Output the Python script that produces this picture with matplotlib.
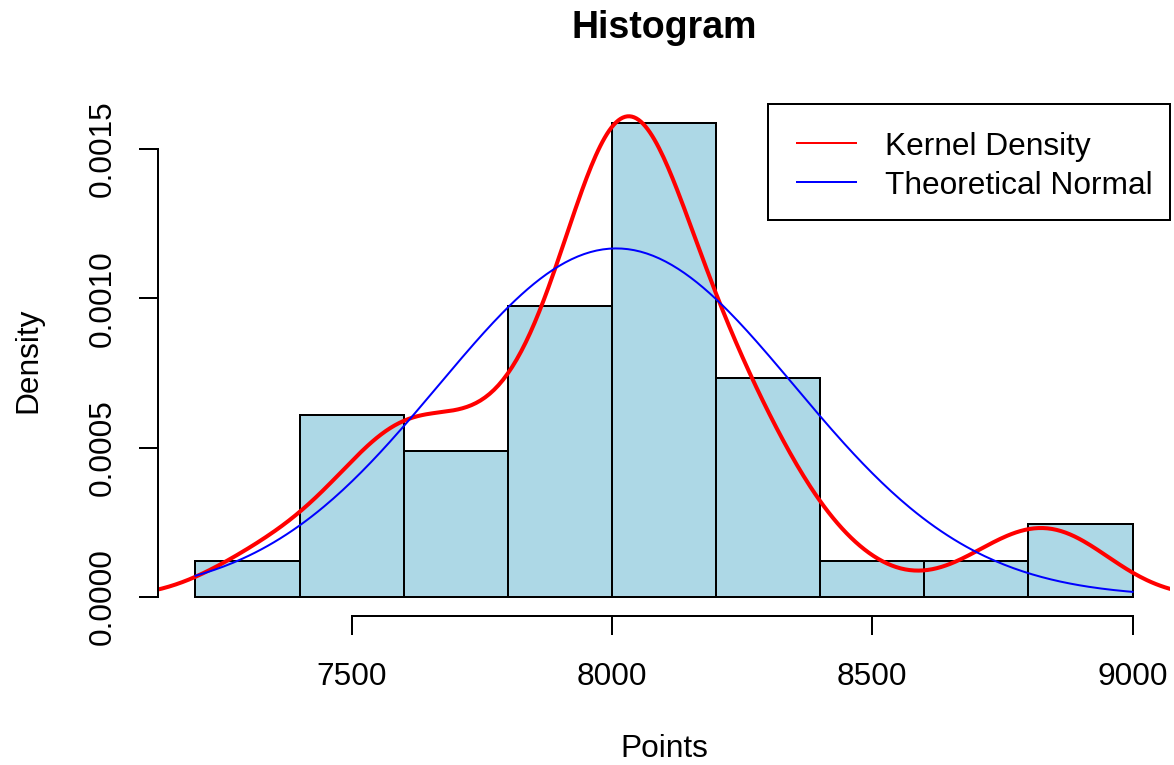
import matplotlib

matplotlib.use("Agg")
import matplotlib.pyplot as plt
from matplotlib.lines import Line2D
from matplotlib.patches import Rectangle
import numpy as np

plt.rcParams["font.family"] = ["Liberation Sans", "DejaVu Sans"]

# Points scored, one value per observation
points = [
    7305,
    7430, 7490, 7575, 7590, 7598,
    7625, 7685, 7740, 7782,
    7810, 7850, 7890, 7925, 7950, 7970, 7985, 7995,
    8005, 8012, 8018, 8025, 8032, 8040, 8048, 8057, 8068, 8080, 8095, 8115, 8145,
    8205, 8215, 8230, 8250, 8285, 8330,
    8440, 8730, 8840, 8880,
]
breaks = list(range(7200, 9001, 200))
x_ticks = [7500, 8000, 8500, 9000]
y_ticks = [0.0, 0.0005, 0.0010, 0.0015]
legend_labels = ["Kernel Density", "Theoretical Normal"]
legend_colors = ["red", "blue"]

x = np.array(points, dtype=float)
dens, edges = np.histogram(x, bins=breaks, density=True)

# gaussian kernel density, bandwidth from Silverman's rule (bw.nrd0)
q1, q3 = np.percentile(x, [25, 75])
bw = 0.9 * min(x.std(ddof=1), (q3 - q1) / 1.34) * len(x) ** -0.2
grid = np.linspace(x.min() - 3 * bw, x.max() + 3 * bw, 512)
kde = np.exp(-0.5 * ((grid[:, None] - x[None, :]) / bw) ** 2).sum(axis=1)
kde /= len(x) * bw * np.sqrt(2 * np.pi)

# normal curve with the sample mean and sd
mu, sd = x.mean(), x.std(ddof=1)
xn = np.linspace(breaks[0], breaks[-1], 300)
yn = np.exp(-0.5 * ((xn - mu) / sd) ** 2) / (sd * np.sqrt(2 * np.pi))

W, H = 1174, 765


def fpos(px, py):
    # pixel position (from top-left) -> figure fraction
    return px / W, 1 - py / H


fig = plt.figure(figsize=(W / 100, H / 100), dpi=100)
ax = fig.add_axes([158 / W, 1 - 616 / H, (1170 - 158) / W, (616 - 104.5) / H])

ax.bar(edges[:-1], dens, width=np.diff(edges), align="edge",
       color="#ADD8E6", edgecolor="black", linewidth=1.44, zorder=1)
ax.plot(grid, kde, color="red", linewidth=2.9, zorder=2)
ax.plot(xn, yn, color="blue", linewidth=1.44, zorder=3)

span = breaks[-1] - breaks[0]
ax.set_xlim(breaks[0] - 0.04 * span, breaks[-1] + 0.04 * span)
ymax = dens.max()
ax.set_ylim(-0.04 * ymax, ymax * 1.04)

for s in ("top", "right"):
    ax.spines[s].set_visible(False)
ax.spines["left"].set_bounds(y_ticks[0], y_ticks[-1])
ax.spines["bottom"].set_bounds(x_ticks[0], x_ticks[-1])
for s in ("left", "bottom"):
    ax.spines[s].set_linewidth(1.44)

ax.set_xticks(x_ticks)
ax.set_xticklabels([str(t) for t in x_ticks])
ax.set_yticks(y_ticks)
ax.set_yticklabels([f"{t:.4f}" for t in y_ticks], rotation=90, va="center")
ax.tick_params(length=13.7, width=1.44, labelsize=22.8)
ax.tick_params(axis="x", pad=19.5)
ax.tick_params(axis="y", pad=15)

# legend box in the top-right corner of the plot region
x0, y0 = fpos(768, 220)
x1, y1 = fpos(1170, 104)
fig.add_artist(Rectangle((x0, y0), x1 - x0, y1 - y0, transform=fig.transFigure,
                         facecolor="white", edgecolor="black", linewidth=1.44,
                         zorder=5))
for i, (lab, col) in enumerate(zip(legend_labels, legend_colors)):
    yc = 143 + 39 * i
    lx0, ly = fpos(797, yc)
    lx1, _ = fpos(856, yc)
    fig.add_artist(Line2D([lx0, lx1], [ly, ly], transform=fig.transFigure,
                          color=col, linewidth=1.44, zorder=6))
    tx, ty = fpos(885, yc + 11.5)
    fig.text(tx, ty, lab, ha="left", va="baseline", fontsize=22.8, zorder=6)

cx = (158 + 1170) / 2 / W
fig.text(cx, 1 - 38 / H, "Histogram", ha="center", va="baseline",
         fontsize=27, fontweight="bold")
fig.text(cx, 1 - 757 / H, "Points", ha="center", va="baseline", fontsize=22.8)
fig.text(28 / W, 1 - 360 / H, "Density", ha="center", va="center",
         rotation=90, fontsize=22.8)

fig.savefig("out.png", dpi=100)
plt.close(fig)
